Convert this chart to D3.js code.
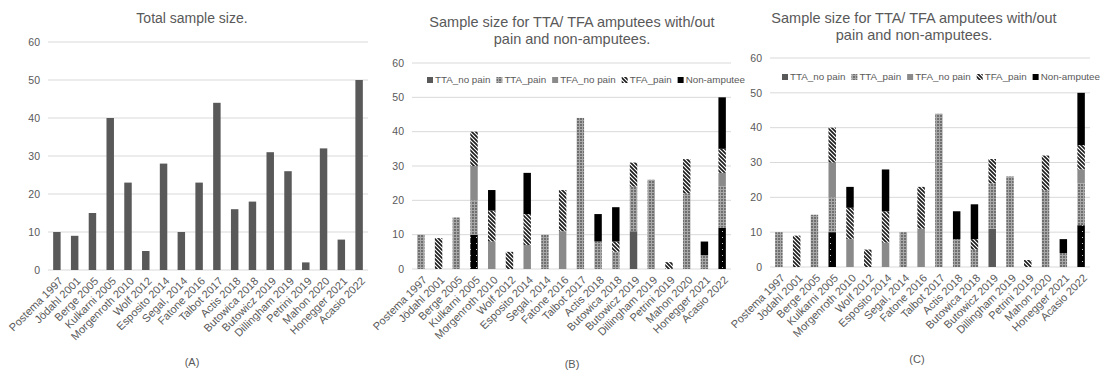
<!DOCTYPE html>
<html>
<head>
<meta charset="utf-8">
<script src="https://cdn.jsdelivr.net/npm/d3@7"></script>
<style>
  body { margin: 0; background: #fff; }
  text { font-family: "Liberation Sans", Arial, sans-serif; fill: #595959; }
</style>
</head>
<body>
<svg id="chart" width="1101" height="376"></svg>
<script>
// data
const studies = ['Postema 1997', 'Jödahl 2001', 'Berge 2005', 'Kulkarni 2005', 'Morgenroth 2010', 'Wolf 2012',
  'Esposito 2014', 'Segal, 2014', 'Fatone 2016', 'Talbot 2017', 'Actis 2018', 'Butowica 2018',
  'Butowicz 2019', 'Dillingham 2019', 'Petrini 2019', 'Mahon 2020', 'Honegger 2021', 'Acasio 2022'];
const totals = [10, 9, 15, 40, 23, 5, 28, 10, 23, 44, 16, 18, 31, 26, 2, 32, 8, 50];

// stacked series (bottom to top); the dotted black block sits in the TTA_no pain slot
const ttaNoPainDotted = [0, 0, 0, 10, 0, 0, 0, 0, 0, 0, 0, 0, 0, 0, 0, 0, 0, 12];
const ttaNoPain  = [0, 0, 0, 0, 0, 0, 0, 0, 0, 0, 0, 0, 11, 0, 0, 0, 0, 0];
const ttaPain    = [10, 0, 15, 10, 0, 0, 0, 10, 0, 44, 8, 5, 13, 26, 0, 22, 4, 12];
const tfaNoPain  = [0, 0, 0, 10, 8, 0, 7, 0, 11, 0, 0, 0, 0, 0, 0, 0, 0, 4];
const tfaPain    = [0, 9, 0, 10, 9, 5, 9, 0, 12, 0, 0, 3, 7, 0, 2, 10, 0, 7];
const nonAmputee = [0, 0, 0, 0, 6, 0, 12, 0, 0, 0, 8, 10, 0, 0, 0, 0, 4, 15];

const seriesNames = ['TTA_no pain', 'TTA_pain', 'TFA_no pain', 'TFA_pain', 'Non-amputee'];
const yTicks = [0, 10, 20, 30, 40, 50, 60];

const svg = d3.select('#chart');

// fill patterns
const defs = svg.append('defs');
const check = defs.append('pattern').attr('id', 'check')
  .attr('width', 3).attr('height', 3).attr('patternUnits', 'userSpaceOnUse');
check.append('rect').attr('width', 3).attr('height', 3).attr('fill', '#6f6f6f');
check.append('rect').attr('width', 3).attr('height', 1).attr('fill', '#a8a8a8');
check.append('rect').attr('width', 1).attr('height', 3).attr('fill', '#a8a8a8');

const hatch = defs.append('pattern').attr('id', 'hatch')
  .attr('width', 4).attr('height', 4).attr('patternUnits', 'userSpaceOnUse');
hatch.append('rect').attr('width', 4).attr('height', 4).attr('fill', '#fff');
hatch.append('path').attr('d', 'M-1,-1 L5,5 M-1,3 L1,5 M3,-1 L5,1')
  .attr('stroke', '#1a1a1a').attr('stroke-width', 1.6);

const dots = defs.append('pattern').attr('id', 'dots')
  .attr('width', 6).attr('height', 6).attr('patternUnits', 'userSpaceOnUse');
dots.append('rect').attr('width', 6).attr('height', 6).attr('fill', '#000');
dots.append('rect').attr('x', 2).attr('y', 3).attr('width', 1).attr('height', 1).attr('fill', '#ccc');

const fills = {
  dotted: 'url(#dots)',
  'TTA_no pain': '#595959',
  'TTA_pain': 'url(#check)',
  'TFA_no pain': '#8a8a8a',
  'TFA_pain': 'url(#hatch)',
  'Non-amputee': '#000'
};

const stackRows = studies.map((s, i) => ({
  study: s,
  dotted: ttaNoPainDotted[i],
  'TTA_no pain': ttaNoPain[i],
  'TTA_pain': ttaPain[i],
  'TFA_no pain': tfaNoPain[i],
  'TFA_pain': tfaPain[i],
  'Non-amputee': nonAmputee[i]
}));
const stacked = d3.stack().keys(['dotted'].concat(seriesNames))(stackRows);

const panels = [
  { x0: 48, x1: 368, top: 42, bottom: 270, title: ['Total sample size.'], titleY: [23], titleX: 192,
    caption: '(A)', capX: 192, capY: 366, stacked: false },
  { x0: 412, x1: 731, top: 63, bottom: 269, title: ['Sample size for TTA/ TFA amputees with/out', 'pain and non-amputees.'],
    titleY: [27, 44], titleX: 572, caption: '(B)', capX: 572, capY: 368, stacked: true, legendX: 427, legendY: 80 },
  { x0: 770, x1: 1090, top: 58, bottom: 267, title: ['Sample size for TTA/ TFA amputees with/out', 'pain and non-amputees.'],
    titleY: [23, 40], titleX: 914, caption: '(C)', capX: 917, capY: 363, stacked: true, legendX: 782, legendY: 77 }
];

panels.forEach(p => {
  const g = svg.append('g');
  const x = d3.scaleBand().domain(studies).range([p.x0, p.x1]).paddingInner(0.58).paddingOuter(0.29);
  const y = d3.scaleLinear().domain([0, 60]).range([p.bottom, p.top]);

  // gridlines
  g.selectAll('.grid').data(yTicks).enter().append('line')
    .attr('x1', p.x0).attr('x2', p.x1)
    .attr('y1', d => y(d)).attr('y2', d => y(d))
    .attr('stroke', '#d9d9d9').attr('stroke-width', 1);

  // y tick labels
  g.selectAll('.ytick').data(yTicks).enter().append('text')
    .text(d => d)
    .attr('x', p.x0 - 8).attr('y', d => y(d))
    .attr('dy', '0.35em')
    .attr('text-anchor', 'end')
    .attr('font-size', 10.5);

  if (!p.stacked) {
    g.selectAll('.bar').data(totals).enter().append('rect')
      .attr('x', (d, i) => x(studies[i]))
      .attr('y', d => y(d))
      .attr('width', x.bandwidth())
      .attr('height', d => y(0) - y(d))
      .attr('fill', '#595959');
  } else {
    const layers = g.selectAll('.layer').data(stacked).enter().append('g')
      .attr('fill', d => fills[d.key]);
    layers.selectAll('rect').data(d => d).enter().append('rect')
      .attr('x', d => x(d.data.study))
      .attr('y', d => y(d[1]))
      .attr('width', x.bandwidth())
      .attr('height', d => y(d[0]) - y(d[1]));

    // legend
    let lx = p.legendX;
    seriesNames.forEach(name => {
      g.append('rect')
        .attr('x', lx).attr('y', p.legendY - 3)
        .attr('width', 6).attr('height', 6)
        .attr('fill', fills[name]);
      const t = g.append('text')
        .text(name)
        .attr('x', lx + 8).attr('y', p.legendY)
        .attr('dy', '0.35em')
        .attr('font-size', 9.8);
      lx += 8 + t.node().getComputedTextLength() + 6;
    });
  }

  // category labels
  g.selectAll('.xlab').data(studies).enter().append('text')
    .text(d => d)
    .attr('transform', d => 'translate(' + (x(d) + x.bandwidth() / 2 + 4) + ',' + (p.bottom + 9) + ') rotate(-45)')
    .attr('text-anchor', 'end')
    .attr('dy', '0.35em')
    .attr('font-size', 11);

  // title
  p.title.forEach((line, i) => {
    g.append('text')
      .text(line)
      .attr('x', p.titleX).attr('y', p.titleY[i])
      .attr('text-anchor', 'middle')
      .attr('font-size', p.stacked ? 14.5 : 14);
  });

  g.append('text')
    .text(p.caption)
    .attr('x', p.capX).attr('y', p.capY)
    .attr('text-anchor', 'middle')
    .attr('font-size', 11);
});
</script>
</body>
</html>
